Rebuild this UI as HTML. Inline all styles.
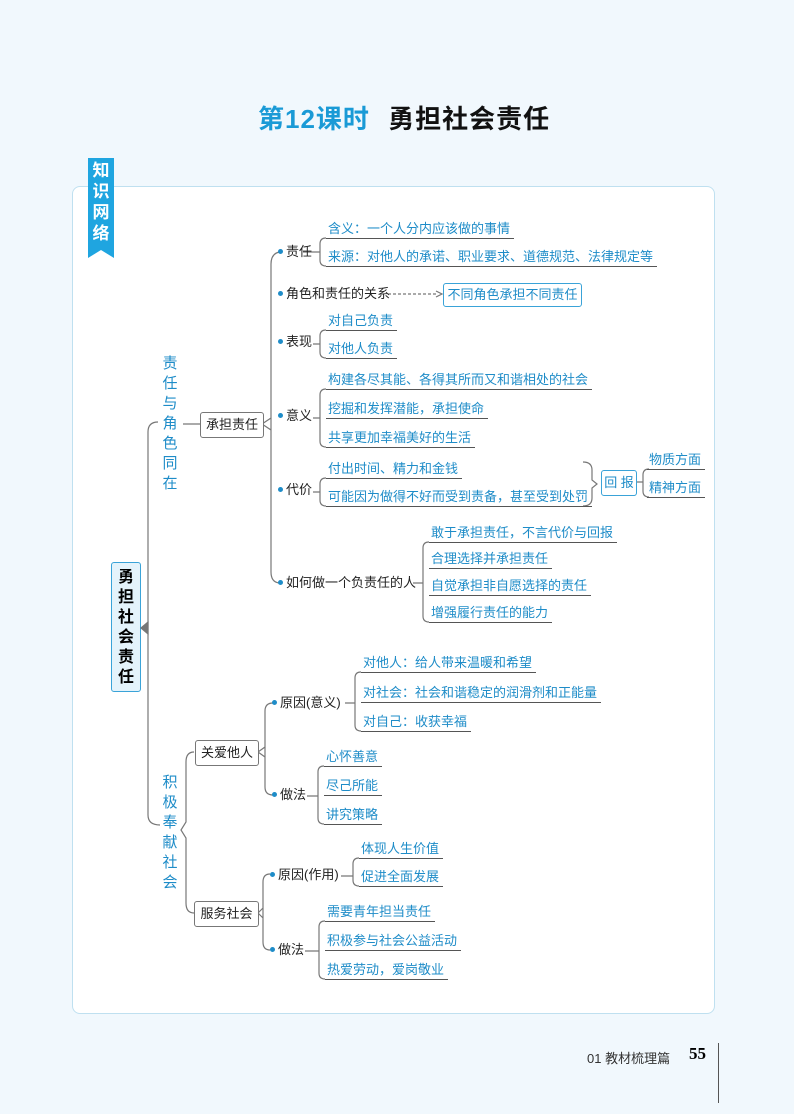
<!DOCTYPE html>
<html><head><meta charset="utf-8"><style>
body{margin:0;width:794px;height:1114px;background:#f1f8fd;position:relative;overflow:hidden;font-family:"Liberation Sans","Noto Sans CJK SC",sans-serif;}
.a{position:absolute;white-space:nowrap;}
.leaf{position:absolute;white-space:nowrap;color:#1e8cc8;font-size:13px;line-height:18px;height:18px;border-bottom:1px solid #555;padding:0 4px 0 2px;}
.n{position:absolute;white-space:nowrap;font-size:13px;line-height:18px;color:#222;}
.dot{display:inline-block;width:5px;height:5px;border-radius:50%;background:#1e8cc8;margin-right:3px;vertical-align:middle;position:relative;top:-1px}
.box{position:absolute;border:1px solid #777;border-radius:3px;background:#fff;font-size:13px;text-align:center;color:#222;}
.vt{position:absolute;color:#1e8cc8;font-size:15px;line-height:20px;width:20px;text-align:center;white-space:normal;}
</style></head><body>
<div class="a" style="left:258px;top:99px;font-size:26px;letter-spacing:1px;font-weight:bold;color:#1a9ad6;">第12课时 <span style="color:#111;margin-left:10px">勇担社会责任</span></div>
<div class="a" style="left:72px;top:186px;width:641px;height:826px;border:1px solid #bfe0f0;border-radius:8px;background:#fff;"></div>
<svg class="a" style="left:88px;top:158px" width="26" height="102"><polygon points="0,0 26,0 26,100 13,92 0,100" fill="#1fa5e0"/></svg>
<div class="a" style="left:88px;top:160px;width:26px;color:#fff;font-weight:bold;font-size:17px;line-height:21px;text-align:center;white-space:normal;">知识网络</div>
<div class="a" style="left:111px;top:562px;width:30px;height:130px;background:#e4f3fb;border:1px solid #3aa3d8;border-radius:3px;font-weight:bold;font-size:16px;line-height:20px;text-align:center;padding-top:5px;box-sizing:border-box;white-space:normal;">勇担社会责任</div>

<svg class="a" style="left:0;top:0" width="794" height="1114" fill="none" stroke="#777" stroke-width="1.2">
<path d="M158,422 Q148,422 148,432 L148,815 Q148,825 160,825"/><path d="M141,628 L148,622 L148,634Z" fill="#777"/>
<path d="M183,424 L200,424"/>
<path d="M279,252 Q271,254 271,264 L271,572 Q271,582 279,583 M262,424 L271,418 M262,424 L271,430"/>
<path d="M194,752 Q186,752 186,762 L186,822 L181,830 L186,838 L186,903 Q186,913 194,913"/>
<path d="M273,703 Q265,703 265,711 L265,787 Q265,795 273,795 M258,752 L265,747 M258,752 L265,757"/>
<path d="M270,874 Q263,874 263,882 L263,942 Q263,950 270,950 M258,913 L263,908 M258,913 L263,918"/>
<path d="M303,252 H320 M326,238 Q320,238 320,244 L320,260 Q320,266 326,266"/>
<path d="M313,344 H320 M326,330 Q320,330 320,336 L320,352 Q320,358 326,358"/>
<path d="M313,418 H320 M326,389 Q320,389 320,395 L320,441 Q320,447 326,447"/>
<path d="M313,492 H320 M326,478 Q320,478 320,484 L320,500 Q320,506 326,506"/>
<path d="M413,583 H423 M429,542 Q423,542 423,548 L423,616 Q423,622 429,622"/>
<path d="M345,703 H355 M361,672 Q355,672 355,678 L355,725 Q355,731 361,731"/>
<path d="M307,796 H318 M324,766 Q318,766 318,772 L318,818 Q318,824 324,824"/>
<path d="M341,876 H353 M359,858 Q353,858 353,864 L353,880 Q353,886 359,886"/>
<path d="M305,951 H319 M325,921 Q319,921 319,927 L319,973 Q319,979 325,979"/>
<path d="M583,462 Q592,462 592,470 L592,480 L597,484 L592,488 L592,498 Q592,506 583,506"/>
<path d="M635,482 H643 M649,469 Q643,469 643,475 L643,491 Q643,497 649,497"/>
<path d="M388,294 H436" stroke-dasharray="3,2"/><path d="M436,291 L442,294 L436,297" />
</svg>

<div class="vt" style="left:160px;top:354px;">责任与角色同在</div>
<div class="vt" style="left:160px;top:773px;">积极奉献社会</div>
<div class="box" style="left:200px;top:412px;width:62px;height:24px;line-height:24px;">承担责任</div>
<div class="box" style="left:195px;top:740px;width:62px;height:24px;line-height:24px;">关爱他人</div>
<div class="box" style="left:194px;top:901px;width:63px;height:24px;line-height:24px;">服务社会</div>
<div class="box" style="left:443px;top:283px;width:137px;height:22px;line-height:22px;color:#1e8cc8;border-color:#3aa3d8;">不同角色承担不同责任</div>
<div class="box" style="left:601px;top:470px;width:34px;height:24px;line-height:24px;color:#1e8cc8;border-color:#3aa3d8;">回 报</div>

<div class="n" style="left:278px;top:243px"><span class="dot"></span>责任</div>
<div class="n" style="left:278px;top:285px"><span class="dot"></span>角色和责任的关系</div>
<div class="n" style="left:278px;top:333px"><span class="dot"></span>表现</div>
<div class="n" style="left:278px;top:407px"><span class="dot"></span>意义</div>
<div class="n" style="left:278px;top:481px"><span class="dot"></span>代价</div>
<div class="n" style="left:278px;top:574px"><span class="dot"></span>如何做一个负责任的人</div>
<div class="n" style="left:272px;top:694px"><span class="dot"></span>原因(意义)</div>
<div class="n" style="left:272px;top:786px"><span class="dot"></span>做法</div>
<div class="n" style="left:270px;top:866px"><span class="dot"></span>原因(作用)</div>
<div class="n" style="left:270px;top:941px"><span class="dot"></span>做法</div>

<div class="leaf" style="left:326px;top:220px">含义：一个人分内应该做的事情</div>
<div class="leaf" style="left:326px;top:248px">来源：对他人的承诺、职业要求、道德规范、法律规定等</div>
<div class="leaf" style="left:326px;top:312px">对自己负责</div>
<div class="leaf" style="left:326px;top:340px">对他人负责</div>
<div class="leaf" style="left:326px;top:371px">构建各尽其能、各得其所而又和谐相处的社会</div>
<div class="leaf" style="left:326px;top:400px">挖掘和发挥潜能，承担使命</div>
<div class="leaf" style="left:326px;top:429px">共享更加幸福美好的生活</div>
<div class="leaf" style="left:326px;top:460px">付出时间、精力和金钱</div>
<div class="leaf" style="left:326px;top:488px">可能因为做得不好而受到责备，甚至受到处罚</div>
<div class="leaf" style="left:647px;top:451px">物质方面</div>
<div class="leaf" style="left:647px;top:479px">精神方面</div>
<div class="leaf" style="left:429px;top:524px">敢于承担责任，不言代价与回报</div>
<div class="leaf" style="left:429px;top:550px">合理选择并承担责任</div>
<div class="leaf" style="left:429px;top:577px">自觉承担非自愿选择的责任</div>
<div class="leaf" style="left:429px;top:604px">增强履行责任的能力</div>
<div class="leaf" style="left:361px;top:654px">对他人：给人带来温暖和希望</div>
<div class="leaf" style="left:361px;top:684px">对社会：社会和谐稳定的润滑剂和正能量</div>
<div class="leaf" style="left:361px;top:713px">对自己：收获幸福</div>
<div class="leaf" style="left:324px;top:748px">心怀善意</div>
<div class="leaf" style="left:324px;top:777px">尽己所能</div>
<div class="leaf" style="left:324px;top:806px">讲究策略</div>
<div class="leaf" style="left:359px;top:840px">体现人生价值</div>
<div class="leaf" style="left:359px;top:868px">促进全面发展</div>
<div class="leaf" style="left:325px;top:903px">需要青年担当责任</div>
<div class="leaf" style="left:325px;top:932px">积极参与社会公益活动</div>
<div class="leaf" style="left:325px;top:961px">热爱劳动，爱岗敬业</div>

<div class="a" style="left:587px;top:1048px;font-size:13px;color:#333;">01 教材梳理篇</div>
<div class="a" style="left:689px;top:1044px;font-size:17px;font-weight:bold;font-family:'Liberation Serif',serif;">55</div>
<div class="a" style="left:718px;top:1043px;width:1px;height:60px;background:#555;"></div>
</body></html>
